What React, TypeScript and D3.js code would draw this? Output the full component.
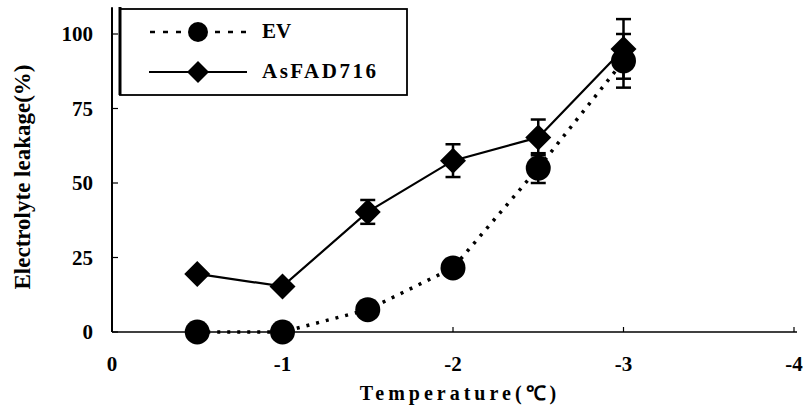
import React from "react";
import * as d3 from "d3";

const temps = [-0.5, -1, -1.5, -2, -2.5, -3];
const evValues = [0, 0, 7.5, 21.5, 55, 91];
const evErrors = [0, 0, 0, 0, 5, 9];
const asValues = [19.5, 15.3, 40.3, 57.5, 65.3, 95];
const asErrors = [0, 0, 4, 5.5, 6, 10];
const xTicks = [0, -1, -2, -3, -4];
const yTicks = [0, 25, 50, 75, 100];

const W = 806;
const H = 409;

export default function App() {
  const x = d3.scaleLinear().domain([0, -4]).range([112, 794]);
  const y = d3.scaleLinear().domain([0, 100]).range([332, 34]);
  const yTop = y(109);

  const lineGen = d3
    .line<[number, number]>()
    .x((d) => x(d[0]))
    .y((d) => y(d[1]));

  const evPts = temps.map((t, i) => [t, evValues[i]] as [number, number]);
  const asPts = temps.map((t, i) => [t, asValues[i]] as [number, number]);

  const font = "'Liberation Serif', 'Times New Roman', serif";
  const capW = 7.5;
  const r = 12.5;
  const dia = 13;

  const diamond = (cx: number, cy: number, s: number) =>
    `M${cx},${cy - s}L${cx + s},${cy}L${cx},${cy + s}L${cx - s},${cy}Z`;

  const errBar = (t: number, v: number, e: number, key: string) => {
    if (!e) return null;
    const cx = x(t);
    return (
      <g key={key} stroke="#000" strokeWidth={2.5}>
        <line x1={cx} x2={cx} y1={y(v - e)} y2={y(v + e)} />
        <line x1={cx - capW} x2={cx + capW} y1={y(v + e)} y2={y(v + e)} />
        <line x1={cx - capW} x2={cx + capW} y1={y(v - e)} y2={y(v - e)} />
      </g>
    );
  };

  return (
    <svg
      width={W}
      height={H}
      style={{ position: "absolute", left: 0, top: 0, background: "#fff" }}
    >
      <rect x={0} y={0} width={W} height={H} fill="#fff" />
      {/* axes */}
      <line x1={112} x2={112} y1={yTop} y2={y(0)} stroke="#000" strokeWidth={2} />
      <line x1={112} x2={797} y1={y(0)} y2={y(0)} stroke="#000" strokeWidth={1.5} />
      {yTicks.map((t) => (
        <g key={"yt" + t}>
          <line x1={112} x2={118} y1={y(t)} y2={y(t)} stroke="#000" strokeWidth={1.2} />
          <text
            x={93}
            y={y(t)}
            dy="0.35em"
            textAnchor="end"
            fontFamily={font}
            fontWeight="bold"
            fontSize={21}
          >
            {t}
          </text>
        </g>
      ))}
      {xTicks.map((t) => (
        <g key={"xt" + t}>
          <line x1={x(t)} x2={x(t)} y1={y(0)} y2={y(0) - 5} stroke="#000" strokeWidth={1.2} />
          <text
            x={x(t)}
            y={371}
            textAnchor="middle"
            fontFamily={font}
            fontWeight="bold"
            fontSize={21}
          >
            {t === 0 ? "0" : "-" + Math.abs(t)}
          </text>
        </g>
      ))}
      <text
        x={460}
        y={400}
        textAnchor="middle"
        fontFamily={font}
        fontWeight="bold"
        fontSize={20}
        letterSpacing={4}
      >
        Temperature(℃)
      </text>
      <text
        transform={`translate(30,${177}) rotate(-90)`}
        textAnchor="middle"
        fontFamily={font}
        fontWeight="bold"
        fontSize={23}
      >
        Electrolyte leakage(%)
      </text>

      {/* series lines */}
      <path
        d={lineGen(evPts) || ""}
        fill="none"
        stroke="#000"
        strokeWidth={3.5}
        strokeDasharray="3,7"
      />
      <path d={lineGen(asPts) || ""} fill="none" stroke="#000" strokeWidth={2.2} />

      {/* error bars */}
      {temps.map((t, i) => errBar(t, asValues[i], asErrors[i], "ae" + i))}
      {temps.map((t, i) => errBar(t, evValues[i], evErrors[i], "ee" + i))}

      {/* markers */}
      {temps.map((t, i) => (
        <circle key={"ev" + i} cx={x(t)} cy={y(evValues[i])} r={r} fill="#000" />
      ))}
      {temps.map((t, i) => (
        <path key={"as" + i} d={diamond(x(t), y(asValues[i]), dia)} fill="#000" />
      ))}

      {/* legend */}
      <rect x={120} y={9} width={287} height={86} fill="#fff" stroke="#000" strokeWidth={1.8} />
      <line x1={120} x2={120} y1={7} y2={95} stroke="#000" strokeWidth={3} />
      <line x1={150} x2={246} y1={32} y2={32} stroke="#000" strokeWidth={2.5} strokeDasharray="5,8" />
      <circle cx={198} cy={32} r={10} fill="#000" />
      <text x={262} y={38} fontFamily={font} fontWeight="bold" fontSize={21}>
        EV
      </text>
      <line x1={149} x2={247} y1={72} y2={72} stroke="#000" strokeWidth={2.2} />
      <path d={diamond(198, 72, 11)} fill="#000" />
      <text x={262} y={78} fontFamily={font} fontWeight="bold" fontSize={21} letterSpacing={2.5}>
        AsFAD716
      </text>
    </svg>
  );
}
